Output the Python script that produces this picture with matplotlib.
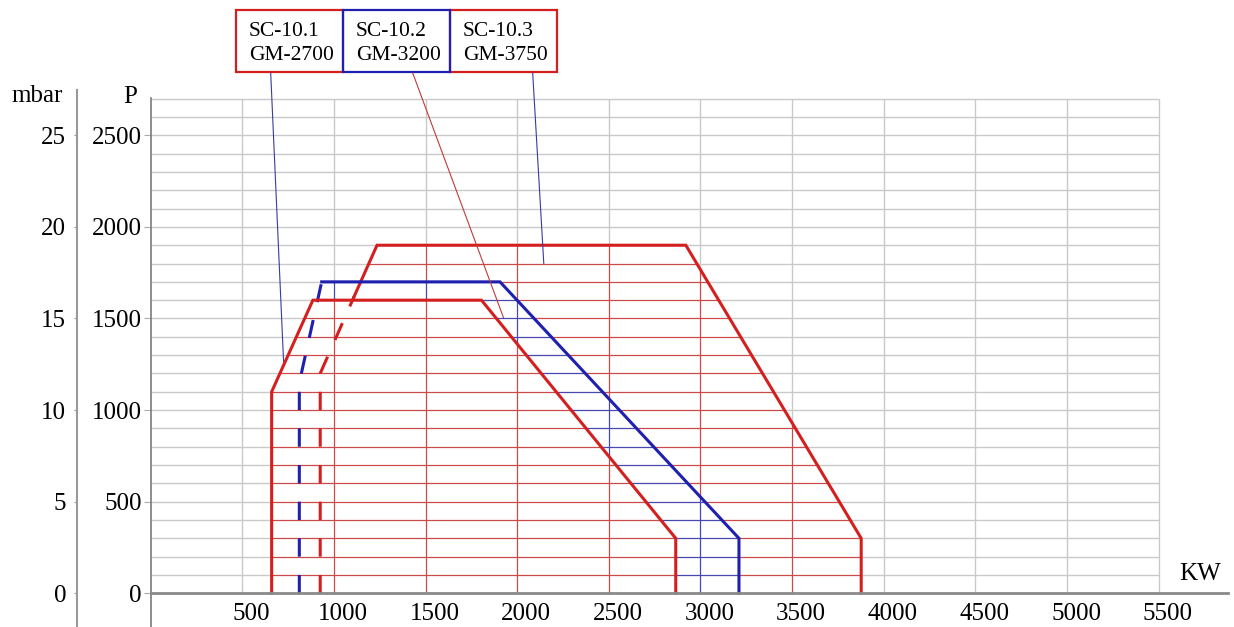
import numpy as np
import matplotlib
matplotlib.use('Agg')
import matplotlib.pyplot as plt
from matplotlib.patches import Polygon, Rectangle, ConnectionPatch
import matplotlib.transforms as mtransforms

plt.rcParams['font.family'] = ['Liberation Serif', 'DejaVu Serif']

# envelopes: power (KW) vs pressure P
sc1_x = [660, 660, 885, 1805, 2865, 2865]
sc1_y = [0, 1100, 1600, 1600, 300, 0]

sc2_dash_x = [811, 811, 933]
sc2_dash_y = [0, 1150, 1700]
sc2_x = [933, 1906, 3210, 3210]
sc2_y = [1700, 1700, 300, 0]

sc3_dash_x = [925, 925, 1110]
sc3_dash_y = [0, 1200, 1620]
sc3_x = [1110, 1235, 2920, 3877, 3877]
sc3_y = [1620, 1900, 1900, 300, 0]

box_text = ['SC-10.1\nGM-2700', 'SC-10.2\nGM-3200', 'SC-10.3\nGM-3750']
leader_end = [(725, 1265), (1925, 1505), (2145, 1800)]

x_ticks = [500, 1000, 1500, 2000, 2500, 3000, 3500, 4000, 4500, 5000, 5500]
p_ticks = [0, 500, 1000, 1500, 2000, 2500]
mbar_ticks = [0, 5, 10, 15, 20, 25]
grid_x = np.arange(500, 5501, 500)
grid_y = np.arange(100, 2701, 100)

RED = '#d41f1f'
BLUE = '#1f1fb0'
RED_GRID = '#cc4a4a'
BLUE_GRID = '#4848b0'
GRAY = '#c9c9c9'

W, H = 1234, 627
kx = 0.18326  # px per KW
ky = 0.1832   # px per P
x0 = 150.7
y0 = 593.3


def fx(px):
    return px / W


def fy(py):
    return 1 - py / H


fig = plt.figure(figsize=(W / 100, H / 100), dpi=100)

right_px = 1228
top_px = 98.3
ax = fig.add_axes([fx(x0), 0, (right_px - x0) / W, (H - top_px) / H])
ax.set_xlim(0, (right_px - x0) / kx)
ax.set_ylim(-(H - y0) / ky, (y0 - top_px) / ky)

# gray grid
ax.hlines(grid_y, 0, 5500, colors=GRAY, lw=1.0, zorder=1)
ax.vlines(grid_x, 0, 2700, colors=GRAY, lw=1.0, zorder=1)

# coloured grid inside each envelope (later ones cover earlier ones)
polys = [
    (list(zip(sc3_dash_x + sc3_x, sc3_dash_y + sc3_y)), RED_GRID),
    (list(zip(sc2_dash_x + sc2_x, sc2_dash_y + sc2_y)), BLUE_GRID),
    (list(zip(sc1_x, sc1_y)), RED_GRID),
]
z = 1.2
for pts, col in polys:
    clip = Polygon(pts, closed=True, transform=ax.transData, fill=False, lw=0)
    for c, w in [('white', 2.2), (col, 0.9)]:
        h = ax.hlines(grid_y, 0, 5500, colors=c, lw=w, zorder=z)
        v = ax.vlines(grid_x, 0, 2700, colors=c, lw=w, zorder=z)
        h.set_clip_path(clip)
        v.set_clip_path(clip)
        z += 0.1

# envelope lines
lw = 2.2
dash = 100 * ky * 0.72 / lw
ax.plot(sc3_x, sc3_y, color=RED, lw=lw, zorder=3, solid_joinstyle='miter')
ax.plot(sc3_dash_x, sc3_dash_y, color=RED, lw=lw, zorder=3, linestyle=(0, (dash, dash)))
ax.plot(sc2_x, sc2_y, color=BLUE, lw=lw, zorder=3, solid_joinstyle='miter')
ax.plot(sc2_dash_x, sc2_dash_y, color=BLUE, lw=lw, zorder=3, linestyle=(0, (dash, dash)))
ax.plot(sc1_x, sc1_y, color=RED, lw=lw, zorder=3.5, solid_joinstyle='miter')

# axes styling
for s in ['top', 'right']:
    ax.spines[s].set_visible(False)
ax.spines['left'].set_color('#7a7a7a')
ax.spines['left'].set_linewidth(1.2)
ax.spines['bottom'].set_position(('data', 0))
ax.spines['bottom'].set_color('#8a8a8a')
ax.spines['bottom'].set_linewidth(2.0)
ax.spines['bottom'].set_zorder(4)

ax.set_xticks(x_ticks)
ax.set_xticklabels([str(t) for t in x_ticks])
ax.tick_params(axis='x', length=0, pad=7, labelsize=18)
ax.set_yticks(p_ticks)
ax.set_yticklabels([str(t) for t in p_ticks])
ax.tick_params(axis='y', length=5, width=0.8, color='#aaaaaa', pad=1.5, labelsize=18)
shift = mtransforms.ScaledTranslation(0.09, 0, fig.dpi_scale_trans)
for lab in ax.get_xticklabels():
    lab.set_transform(lab.get_transform() + shift)

# mbar axis
top2 = 90
ax2 = fig.add_axes([fx(77.3), 0, 0.0005, (H - top2) / H])
ax2.set_ylim(-(H - y0) / ky / 100, (y0 - top2) / ky / 100)
ax2.patch.set_visible(False)
for s in ['top', 'right', 'bottom']:
    ax2.spines[s].set_visible(False)
ax2.spines['left'].set_color('#999999')
ax2.spines['left'].set_linewidth(1.5)
ax2.set_xticks([])
ax2.set_yticks(mbar_ticks)
ax2.set_yticklabels([str(t) for t in mbar_ticks])
ax2.tick_params(axis='y', length=2.5, width=0.8, color='#999999', pad=5.5, labelsize=18)

# axis titles
fig.text(fx(130), fy(97), 'P', ha='center', va='center', fontsize=18)
fig.text(fx(37), fy(101.7), 'mbar', ha='center', va='baseline', fontsize=18)
fig.text(fx(1200), fy(574), 'KW', ha='center', va='center', fontsize=18)

# callout boxes
box_w = 107.2
box_colors = [RED, BLUE, RED]
leader_colors = ['#3a3aa0', '#c03a3a', '#3a3aa0']
leader_start = [270.7, 412.7, 532.7]
for i in [0, 2, 1]:
    left = 235.7 + i * box_w
    r = Rectangle((fx(left), fy(72.3)), box_w / W, (72.3 - 10) / H,
                  transform=fig.transFigure, fill=False,
                  edgecolor=box_colors[i], lw=1.6, zorder=5)
    fig.add_artist(r)
for i in range(3):
    left = 235.7 + i * box_w
    fig.text(fx(left + 13), fy(43.5), box_text[i], ha='left', va='center',
             fontsize=15.5, linespacing=1.3)
    con = ConnectionPatch(xyA=(fx(leader_start[i]), fy(73)), coordsA='figure fraction',
                          xyB=leader_end[i], coordsB='data', axesB=ax,
                          color=leader_colors[i], lw=0.8, zorder=6)
    fig.add_artist(con)

fig.savefig('out.png', dpi=100)
